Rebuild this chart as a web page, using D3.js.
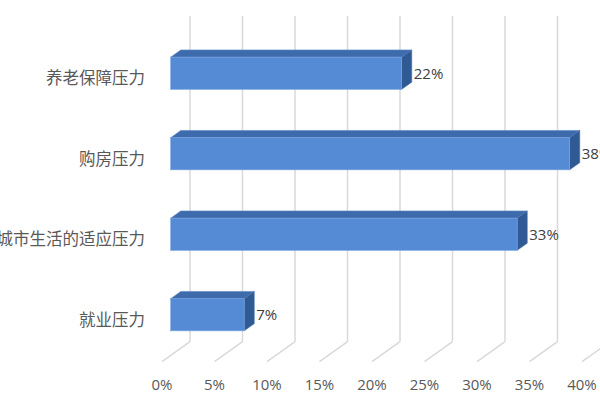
<!DOCTYPE html>
<html>
<head>
<meta charset="utf-8">
<script src="https://cdn.jsdelivr.net/npm/d3@7"></script>
<style>
  body { margin: 0; background: #fff; }
  svg { display: block; }
</style>
</head>
<body>
<div id="chart"></div>
<script>
// chart data
var categories = ["养老保障压力", "购房压力", "城市生活的适应压力", "就业压力"];
var values = [0.22, 0.38, 0.33, 0.07];
var ticks = [0, 0.05, 0.10, 0.15, 0.20, 0.25, 0.30, 0.35, 0.40];

var width = 600, height = 400;

// 3d depth: offset of the back wall from the front plane
var depth = {dx: 28, dy: -20};
// where the bar sits inside the depth (0 = front, 1 = back)
var barFront = 0.31, barBack = 0.67;

var svg = d3.select("#chart")
  .append("svg")
    .attr("width", width)
    .attr("height", height);

var x = d3.scaleLinear()
  .domain([0, 0.40])
  .range([162, 582]);

var y = d3.scaleBand()
  .domain(categories)
  .range([33, 355])
  .paddingInner(0.6)
  .paddingOuter(0.3);

var wallTop = 16, wallBottom = 341.7;

// back wall gridlines + floor lines
var grid = svg.append("g");
ticks.forEach(function(t) {
  var bx = x(t) + depth.dx;
  grid.append("line")
    .attr("x1", bx).attr("x2", bx)
    .attr("y1", wallTop).attr("y2", wallBottom)
    .attr("stroke", "#d9d9d9")
    .attr("stroke-width", 1.5);
  grid.append("line")
    .attr("x1", bx).attr("y1", wallBottom)
    .attr("x2", x(t)).attr("y2", wallBottom - depth.dy)
    .attr("stroke", "#d9d9d9")
    .attr("stroke-width", 1.5);
});

// tick labels
svg.append("g")
  .selectAll("text")
  .data(ticks)
  .enter().append("text")
    .attr("x", function(d) { return x(d); })
    .attr("y", 390)
    .attr("text-anchor", "middle")
    .attr("font-family", "'Open Sans', sans-serif")
    .attr("font-size", 15)
    .attr("fill", "#595959")
    .text(function(d) { return d3.format(".0%")(d); });

// bars
var fx = barFront * depth.dx, fy = barFront * depth.dy;
var bdx = (barBack - barFront) * depth.dx, bdy = (barBack - barFront) * depth.dy;

var data = categories.map(function(c, i) { return {cat: c, value: values[i]}; });

var bars = svg.append("g")
  .selectAll("g")
  .data(data)
  .enter().append("g");

function pts(arr) { return arr.map(function(p) { return p.join(","); }).join(" "); }

bars.each(function(d) {
  var g = d3.select(this);
  var x0 = x(0) + fx, x1 = x(d.value) + fx;
  var yt = y(d.cat), yb = y(d.cat) + y.bandwidth();
  // top face
  g.append("polygon")
    .attr("points", pts([[x0, yt], [x1, yt], [x1 + bdx, yt + bdy], [x0 + bdx, yt + bdy]]))
    .attr("fill", "#3e6bab")
    .attr("stroke", "#5a86c4").attr("stroke-width", 0.6);
  // side face
  g.append("polygon")
    .attr("points", pts([[x1, yt], [x1 + bdx, yt + bdy], [x1 + bdx, yb + bdy], [x1, yb]]))
    .attr("fill", "#2f5a94")
    .attr("stroke", "#4a72aa").attr("stroke-width", 0.6);
  // front face
  g.append("rect")
    .attr("x", x0).attr("y", yt)
    .attr("width", x1 - x0).attr("height", yb - yt)
    .attr("fill", "#558bd5")
    .attr("stroke", "#7aa5e0").attr("stroke-width", 0.6);
});

// value labels
bars.append("text")
  .attr("x", function(d) { return x(d.value) + fx + bdx + 2; })
  .attr("y", function(d) { return y(d.cat) + y.bandwidth() / 2; })
  .attr("dy", "0.35em")
  .attr("font-family", "'Open Sans', sans-serif")
  .attr("font-size", 15)
  .attr("fill", "#404040")
  .text(function(d) { return d3.format(".0%")(d.value); });

// category labels
svg.append("g")
  .selectAll("text")
  .data(categories)
  .enter().append("text")
    .attr("x", 145)
    .attr("y", function(d) { return y(d) + y.bandwidth() / 2 + 5; })
    .attr("dy", "0.35em")
    .attr("text-anchor", "end")
    .attr("font-family", "'Noto Sans CJK SC', sans-serif")
    .attr("font-size", 16.5)
    .attr("fill", "#595959")
    .text(function(d) { return d; });
</script>
</body>
</html>
